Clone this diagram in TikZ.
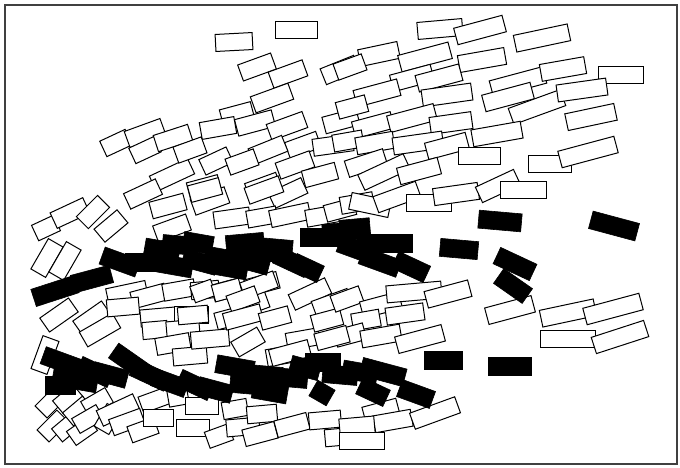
\documentclass[tikz,border=0pt]{standalone}
\begin{document}
\begin{tikzpicture}[x=1pt,y=-1pt,
  wbrick/.style={draw=black, fill=white, line width=1pt, rectangle, inner sep=0pt, minimum height=17},
  bbrick/.style={draw=black, fill=black, line width=0.6pt, rectangle, inner sep=0pt, minimum height=18},
  frame/.style={draw=black!75, line width=1.6pt}]
\useasboundingbox (0,0) rectangle (680,467);
\fill[white] (0,0) rectangle (680,467);
\draw[frame] (5,5) rectangle (677,464);
% white bricks (x/y/width/angle)
\foreach \x/\y/\w/\a in {
234/42/37/3, 296/30/42/0, 257/67/35/20, 288/74/36/20, 340/70/36/22,
272/98/40/20, 237/114/32/15, 255/123/38/15, 287/126/38/20, 341/121/35/15,
116/143/28/25, 145/133/38/20, 145/150/28/25, 173/138/36/18, 218/128/35/10,
303/145/33/20, 333/145/40/8, 268/150/36/22, 216/161/30/25, 242/162/30/20,
295/165/36/20, 172/175/42/25, 143/194/35/25, 204/187/32/15, 210/201/36/20,
263/186/33/20, 288/193/36/25, 168/206/35/15, 232/218/36/8, 262/217/30/10,
290/215/40/12, 322/216/32/10, 340/210/30/15, 46/228/24/25, 70/213/36/25,
93/212/30/45, 111/226/30/40, 47/258/35/60, 65/261/35/60, 172/228/35/20,
205/190/32/15, 264/190/36/20, 320/175/34/15, 190/150/30/20,
440/29/45/5, 480/30/50/15, 542/38/55/12, 379/54/40/12, 425/57/52/15,
482/60/47/10, 350/67/30/20, 518/82/55/15, 563/69/45/10, 621/75/45/0,
508/97/50/15, 537/107/55/20, 582/90/50/8, 591/117/50/12, 412/78/42/15,
439/78/45/15, 377/93/45/15, 447/95/50/8, 352/107/30/15, 373/125/40/15,
412/118/48/15, 451/123/42/8, 497/134/50/10, 348/141/30/10, 375/143/38/10,
418/143/50/8, 447/146/42/15, 479/156/42/0, 366/163/40/18, 384/172/50/25,
419/171/42/15, 550/164/43/0, 588/152/58/15, 357/203/33/10, 370/205/40/-12,
397/197/45/20, 429/203/45/0, 456/194/45/8, 498/186/42/25, 523/190/46/0,
127/293/40/12, 149/296/35/15, 179/290/32/10, 205/290/28/5, 230/289/35/15,
262/284/33/15, 310/294/40/25, 332/303/38/20, 59/315/35/35, 92/318/35/35,
100/330/38/30, 123/307/32/5, 158/317/35/5, 191/315/34/0, 155/330/25/5,
183/329/33/5, 233/317/35/15, 253/304/30/20, 173/344/34/10, 190/356/34/5,
210/339/38/5, 248/342/30/30, 285/355/37/10, 303/339/33/10, 327/320/30/15,
203/291/22/20, 227/290/28/15, 259/285/35/20, 243/299/30/20, 243/317/38/15,
275/318/30/15, 193/315/30/5, 45/355/35/70, 347/299/30/20, 381/305/40/15,
414/292/55/5, 448/294/45/15, 366/320/28/10, 405/314/38/8, 350/335/30/15,
381/336/40/10, 420/339/48/15, 510/310/48/15, 568/313/55/12, 613/309/58/15,
568/339/55/0, 620/337/55/18, 332/338/33/15, 290/353/40/15,
51/402/28/45, 53/426/28/45, 68/399/26/40, 67/427/26/40, 78/411/26/40,
82/431/26/35, 97/402/28/30, 88/419/28/30, 108/419/26/60, 118/410/40/25,
127/422/33/20, 143/430/28/20, 155/400/30/20, 158/418/30/0, 178/397/20/10,
202/406/33/0, 193/428/33/0, 219/436/25/20, 235/409/25/10, 243/427/33/5,
262/414/30/5, 260/434/33/15, 292/425/33/15, 325/420/32/5, 340/437/30/5,
381/411/35/15, 393/421/38/10, 435/413/48/20, 357/426/35/5, 362/441/45/0}
  \node[wbrick, minimum width=\w, rotate=\a] at (\x,\y) {};
% black bricks (x/y/width/angle)
\foreach \x/\y/\w/\a in {
55/291/45/18, 92/279/40/15, 120/262/38/-20, 145/262/40/0, 162/250/35/-10,
180/245/35/-5, 198/243/30/-10, 200/262/35/-15, 222/258/35/-10, 245/243/38/5,
175/266/35/-10, 230/268/35/-10, 265/252/35/0,
252/262/35/-15, 275/248/35/-5, 292/262/35/-25, 307/268/30/-25, 320/237/40/0,
340/232/35/5, 358/250/40/-20, 385/243/55/0, 380/262/40/-20, 411/267/35/-25,
459/249/38/-5, 500/221/43/-5, 614/226/48/-15, 515/264/40/-25, 513/286/35/-35,
355/228/30/5,
62/362/40/-20, 75/380/45/-10, 95/372/35/-25, 60/385/30/0, 110/375/35/-15,
130/362/40/-35, 150/375/38/-25, 170/383/35/-20, 195/385/35/-25, 215/390/35/-15,
235/367/38/-10, 250/385/40/-5, 270/392/35/-10, 265/375/35/-5, 290/378/35/-5,
305/368/30/-15, 322/393/20/-30, 340/375/35/-5, 323/362/35/0, 360/372/35/-10,
383/372/45/-15, 373/392/30/-25, 416/394/35/-20, 443/360/38/0, 510/366/43/0}
  \node[bbrick, minimum width=\w, rotate=\a] at (\x,\y) {};
\end{tikzpicture}
\end{document}
